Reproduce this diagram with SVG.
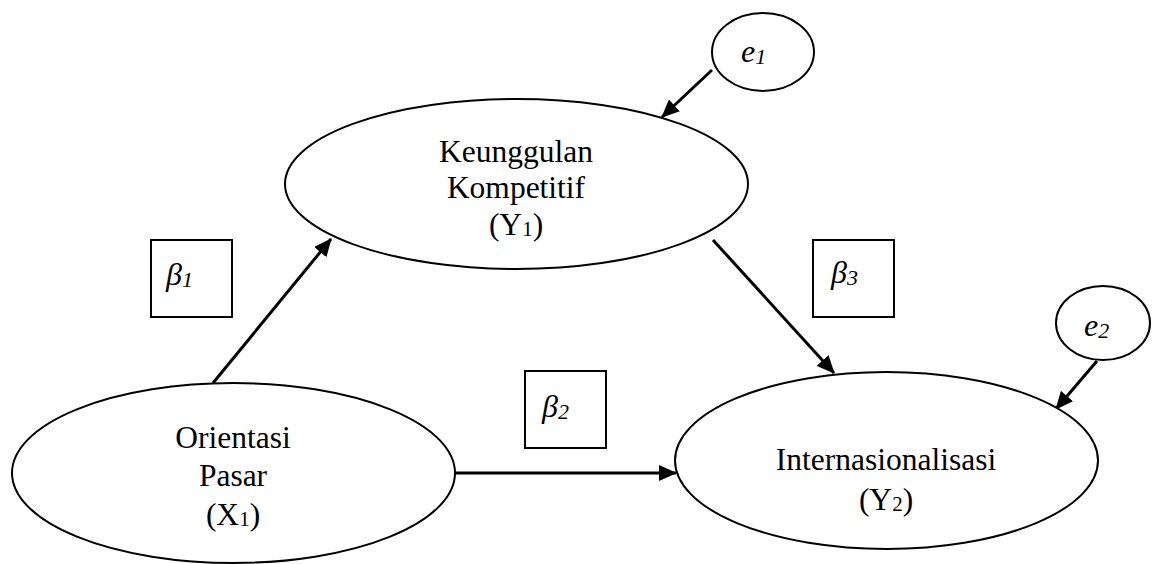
<svg xmlns="http://www.w3.org/2000/svg" width="1163" height="564" viewBox="0 0 1163 564">
<style>
.node{fill:#fff;stroke:#000;stroke-width:2}
.box{fill:#fff;stroke:#000;stroke-width:2}
.lbl{font-family:"Liberation Serif","Times New Roman",serif;font-size:31.5px;fill:#000;text-anchor:middle}
.sub{font-size:21px}
.gr{font-family:"Liberation Serif","Times New Roman",serif;font-size:32px;font-style:italic;fill:#000}
.gsub{font-size:22px}
.conn{stroke:#000;stroke-width:3;fill:none;marker-end:url(#ah)}
</style>
<defs>
<marker id="ah" markerUnits="userSpaceOnUse" markerWidth="18" markerHeight="16" viewBox="0 0 18 16" refX="17" refY="8" orient="auto">
<path d="M0,0 L18,8 L0,16 Z" fill="#000"/>
</marker>
</defs>
<rect width="1163" height="564" fill="#fff"/>
<g id="connectors">
<line class="conn" x1="213" y1="383" x2="331" y2="239"/>
<line class="conn" x1="455" y1="473" x2="676" y2="473"/>
<line class="conn" x1="713" y1="240" x2="834" y2="373"/>
<line class="conn" x1="712" y1="70" x2="662" y2="117"/>
<line class="conn" x1="1097" y1="361" x2="1056" y2="409"/>
</g>
<g id="node-y1">
<ellipse class="node" cx="516.5" cy="184" rx="231.5" ry="85"/>
<text class="lbl" x="516" y="162">Keunggulan</text>
<text class="lbl" x="516" y="198">Kompetitif</text>
<text class="lbl" x="516" y="235">(Y<tspan class="sub" dy="1">1</tspan><tspan dy="-1">)</tspan></text>
</g>
<g id="node-x1">
<ellipse class="node" cx="233.5" cy="473" rx="221.5" ry="90"/>
<text class="lbl" x="233" y="448">Orientasi</text>
<text class="lbl" x="233" y="486">Pasar</text>
<text class="lbl" x="233" y="525">(X<tspan class="sub" dy="1">1</tspan><tspan dy="-1">)</tspan></text>
</g>
<g id="node-y2">
<ellipse class="node" cx="886.5" cy="460.5" rx="211.5" ry="88.5"/>
<text class="lbl" x="886" y="470">Internasionalisasi</text>
<text class="lbl" x="886" y="510">(Y<tspan class="sub" dy="1">2</tspan><tspan dy="-1">)</tspan></text>
</g>
<g id="node-e1">
<ellipse class="node" cx="763" cy="52" rx="51" ry="39"/>
<text class="gr" x="741" y="62">e<tspan class="gsub" dy="2">1</tspan></text>
</g>
<g id="node-e2">
<ellipse class="node" cx="1103" cy="323" rx="47" ry="37"/>
<text class="gr" x="1084" y="336">e<tspan class="gsub" dy="2">2</tspan></text>
</g>
<g id="beta1">
<rect class="box" x="151" y="240" width="81" height="77"/>
<text class="gr" x="166" y="285">β<tspan class="gsub" dy="2">1</tspan></text>
</g>
<g id="beta2">
<rect class="box" x="525" y="371" width="81" height="77"/>
<text class="gr" x="542" y="417">β<tspan class="gsub" dy="2">2</tspan></text>
</g>
<g id="beta3">
<rect class="box" x="813" y="240" width="81" height="77"/>
<text class="gr" x="831" y="283">β<tspan class="gsub" dy="2">3</tspan></text>
</g>
</svg>
